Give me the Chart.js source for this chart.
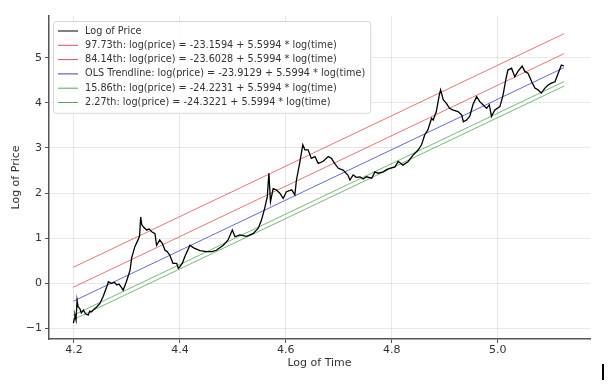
<!DOCTYPE html>
<html>
<head>
<meta charset="utf-8">
<script src="https://cdn.jsdelivr.net/npm/chart.js@4.4.1/dist/chart.umd.min.js"></script>
<style>
html,body{margin:0;padding:0;background:#fff;}
#wrap{width:614px;height:390px;position:relative;}
</style>
</head>
<body>
<div id="wrap"><canvas id="c" width="614" height="390"></canvas></div>
<script>
// Log of Time (x) and Log of Price (y)
const logTime = [4.199,4.201,4.202,4.204,4.206,4.208,4.211,4.214,4.218,4.222,4.227,4.230,4.233,4.238,4.243,4.249,4.255,4.262,4.265,4.271,4.276,4.281,4.285,4.290,4.293,4.299,4.306,4.309,4.315,4.321,4.324,4.326,4.328,4.331,4.337,4.342,4.347,4.353,4.356,4.362,4.367,4.372,4.376,4.381,4.387,4.394,4.397,4.400,4.405,4.409,4.419,4.424,4.428,4.438,4.450,4.460,4.469,4.482,4.491,4.499,4.504,4.513,4.526,4.538,4.548,4.554,4.560,4.565,4.568,4.571,4.576,4.582,4.589,4.595,4.601,4.611,4.617,4.620,4.626,4.632,4.636,4.642,4.648,4.655,4.661,4.670,4.680,4.686,4.692,4.699,4.708,4.717,4.721,4.727,4.733,4.740,4.746,4.752,4.762,4.768,4.774,4.784,4.790,4.796,4.806,4.812,4.821,4.831,4.840,4.850,4.856,4.862,4.868,4.875,4.878,4.884,4.889,4.892,4.897,4.903,4.909,4.916,4.925,4.932,4.935,4.941,4.947,4.953,4.960,4.966,4.972,4.979,4.984,4.988,4.994,5.004,5.010,5.015,5.019,5.026,5.032,5.038,5.046,5.051,5.057,5.064,5.070,5.076,5.082,5.089,5.095,5.101,5.108,5.114,5.120,5.125];
const logPrice = [-0.89,-0.78,-0.71,-0.82,-0.38,-0.53,-0.56,-0.66,-0.60,-0.68,-0.71,-0.62,-0.64,-0.58,-0.53,-0.45,-0.30,-0.08,0.03,-0.01,0.02,-0.04,-0.02,-0.10,-0.16,0.03,0.29,0.56,0.81,0.96,1.05,1.47,1.30,1.25,1.18,1.20,1.14,1.10,0.84,0.96,0.88,0.73,0.70,0.62,0.44,0.44,0.33,0.36,0.45,0.58,0.84,0.80,0.77,0.72,0.70,0.70,0.73,0.84,0.96,1.18,1.03,1.07,1.04,1.10,1.22,1.40,1.66,1.92,2.44,1.81,2.10,2.07,1.99,1.88,2.03,2.07,1.96,2.29,2.66,3.07,2.96,2.96,2.77,2.81,2.66,2.70,2.81,2.77,2.66,2.55,2.51,2.40,2.29,2.40,2.35,2.36,2.31,2.36,2.33,2.47,2.44,2.47,2.52,2.55,2.58,2.70,2.62,2.70,2.84,2.96,3.07,3.29,3.40,3.66,3.62,3.81,4.14,4.29,4.07,3.99,3.88,3.84,3.81,3.73,3.58,3.62,3.70,3.96,4.14,4.03,3.96,3.88,3.96,3.70,3.84,3.92,4.18,4.51,4.73,4.77,4.58,4.70,4.82,4.70,4.66,4.47,4.33,4.29,4.22,4.33,4.40,4.44,4.47,4.66,4.84,4.82];

// Trend lines from the legend
const bandLabels = ["97.73th", "84.14th", "OLS Trendline", "15.86th", "2.27th"];
const bandIntercepts = [-23.1594, -23.6028, -23.9129, -24.2231, -24.3221];
const bandSlope = 5.5994;
const bandRange = [4.199, 5.125];

const xTicks = [4.2, 4.4, 4.6, 4.8, 5.0];
const yTicks = [-1, 0, 1, 2, 3, 4, 5];

const bandColors = ["rgba(225,50,50,0.85)", "rgba(225,50,50,0.85)", "rgba(30,30,210,0.85)", "rgba(50,155,50,0.85)", "rgba(50,155,50,0.85)"];

const priceData = logTime.map((x, i) => ({x: x, y: logPrice[i]}));
const datasets = [{
  label: "Log of Price",
  data: priceData,
  borderColor: "#000",
  borderWidth: 1.3,
  pointRadius: 0,
  tension: 0
}];
bandLabels.forEach((lab, i) => {
  const b = bandIntercepts[i];
  datasets.push({
    label: lab + ": log(price) = " + b.toFixed(4) + " + " + bandSlope.toFixed(4) + " * log(time)",
    data: bandRange.map(x => ({x: x, y: b + bandSlope * x})),
    borderColor: bandColors[i],
    borderWidth: 0.8,
    pointRadius: 0
  });
});

const FONT = "'DejaVu Sans', sans-serif";

const legendPlugin = {
  id: 'mplLegend',
  afterDatasetsDraw(chart) {
    const ctx = chart.ctx;
    const ca = chart.chartArea;
    const x0 = ca.left + 4, y0 = ca.top + 5;
    const rowH = 14.3;
    ctx.save();
    ctx.font = "9.7px " + FONT;
    let maxW = 0;
    chart.data.datasets.forEach(d => { maxW = Math.max(maxW, ctx.measureText(d.label).width); });
    const w = 32 + maxW + 5, h = rowH * chart.data.datasets.length + 6;
    ctx.fillStyle = "rgba(255,255,255,0.85)";
    ctx.strokeStyle = "#d6d6d6";
    ctx.lineWidth = 1;
    ctx.beginPath();
    ctx.roundRect(x0 + 0.5, y0 + 0.5, w, h, 3);
    ctx.fill(); ctx.stroke();
    chart.data.datasets.forEach((d, i) => {
      const yy = y0 + 10 + i * rowH;
      ctx.strokeStyle = d.borderColor;
      ctx.lineWidth = 1;
      ctx.beginPath();
      ctx.moveTo(x0 + 5, yy); ctx.lineTo(x0 + 25, yy); ctx.stroke();
      ctx.fillStyle = "#333";
      ctx.textBaseline = "middle";
      ctx.fillText(d.label, x0 + 32, yy);
    });
    ctx.restore();
  }
};

const markPlugin = {
  id: 'mark',
  afterDraw(chart) {
    const ctx = chart.ctx;
    ctx.save();
    ctx.strokeStyle = "#000";
    ctx.lineWidth = 2;
    ctx.beginPath();
    ctx.moveTo(603, 364); ctx.lineTo(603, 380);
    ctx.stroke();
    ctx.restore();
  }
};

new Chart(document.getElementById('c'), {
  type: 'line',
  data: {datasets: datasets},
  plugins: [legendPlugin, markPlugin],
  options: {
    responsive: false,
    animation: false,
    layout: {padding: {left: 10, right: 24, top: 16, bottom: 20}},
    plugins: {legend: {display: false}, tooltip: {enabled: false}},
    scales: {
      x: {
        type: 'linear',
        min: 4.153, max: 5.174,
        afterBuildTicks: s => { s.ticks = xTicks.map(v => ({value: v})); },
        afterFit: s => { s.height = 31; },
        ticks: {
          callback: v => v.toFixed(1),
          color: "#333", font: {family: FONT, size: 11}, padding: 1, maxRotation: 0, autoSkip: false
        },
        grid: {color: "rgba(0,0,0,0.09)", lineWidth: 1, tickLength: 4, tickColor: "#555", drawTicks: true},
        border: {display: true, color: "#555", width: 1.5},
        title: {display: true, text: "Log of Time", color: "#333", font: {family: FONT, size: 11}, padding: {top: 0, bottom: 0}}
      },
      y: {
        type: 'linear',
        min: -1.24, max: 5.93,
        afterBuildTicks: s => { s.ticks = yTicks.map(v => ({value: v})); },
        afterFit: s => { s.width = 39; },
        ticks: {
          callback: v => (v < 0 ? "\u2212" + Math.abs(v) : String(v)),
          color: "#333", font: {family: FONT, size: 11}, padding: 3, autoSkip: false
        },
        grid: {color: "rgba(0,0,0,0.09)", lineWidth: 1, tickLength: 4, tickColor: "#555", drawTicks: true},
        border: {display: true, color: "#555", width: 1.5},
        title: {display: true, text: "Log of Price", color: "#333", font: {family: FONT, size: 11}, padding: {top: 0, bottom: 2}}
      }
    }
  }
});
</script>
</body>
</html>
